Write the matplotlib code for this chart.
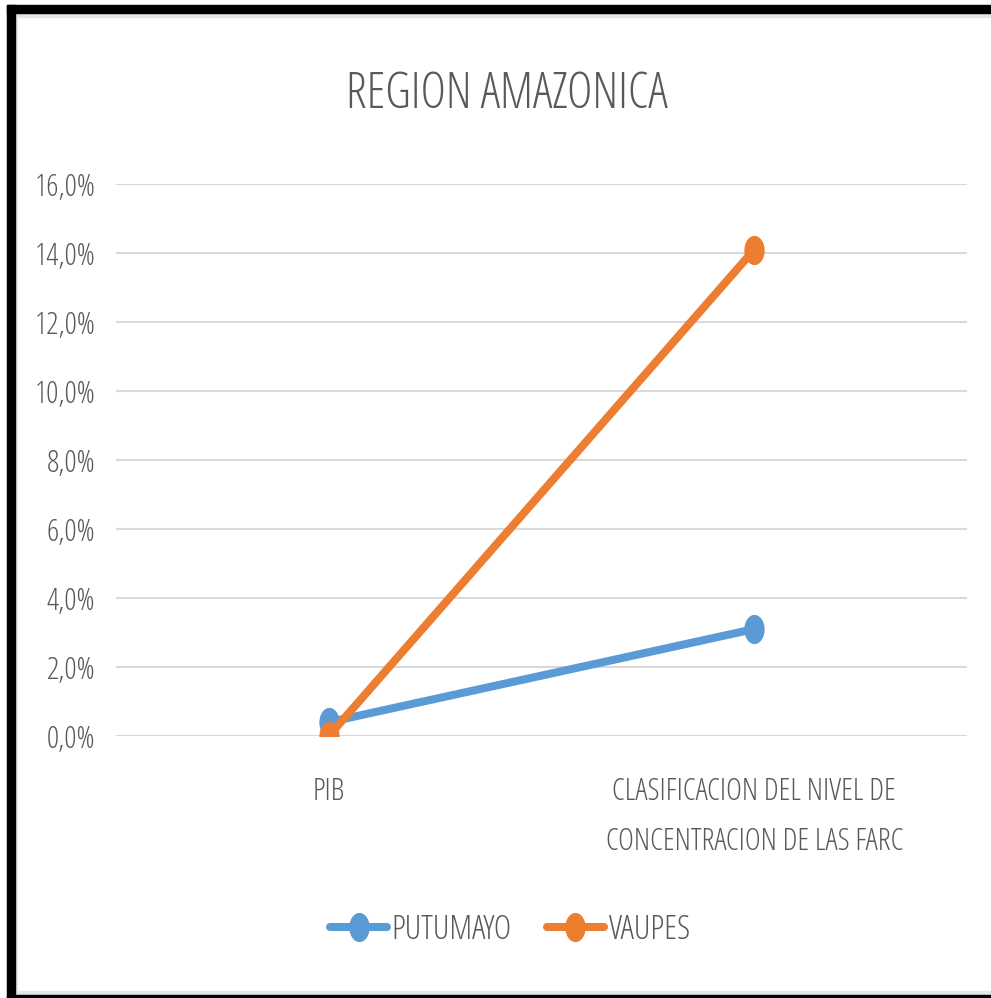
import numpy as np
import matplotlib
matplotlib.use('Agg')
import matplotlib.pyplot as plt
from matplotlib.path import Path
from matplotlib.patches import Rectangle
from matplotlib.ticker import FuncFormatter

plt.rcParams['font.family'] = ['Open Sans', 'DejaVu Sans']
plt.rcParams['font.stretch'] = 'condensed'
plt.rcParams['font.weight'] = 300

# data
categories = ['PIB', 'CLASIFICACION DEL NIVEL DE\nCONCENTRACION DE LAS FARC']
putumayo = [0.004, 0.031]
vaupes = [0.000, 0.141]
series_names = ['PUTUMAYO', 'VAUPES']
y_ticks = [0.0, 0.02, 0.04, 0.06, 0.08, 0.10, 0.12, 0.14, 0.16]

blue = '#5B9BD5'
orange = '#ED7D31'
gray_text = '#595959'

# tall ellipse marker (chart is squeezed horizontally)
t = np.linspace(0, 2 * np.pi, 60)
ellipse = Path(np.column_stack([0.68 * np.cos(t), np.sin(t)]), closed=True)

W, H = 991, 998
fig = plt.figure(figsize=(W / 100, H / 100), dpi=100)
ax = fig.add_axes([116 / W, 1 - 736 / H, (967 - 116) / W, (736 - 184) / H])

x = np.arange(len(categories))
ax.plot(x, putumayo, color=blue, lw=5.8, marker=ellipse, ms=20,
        solid_capstyle='round', label=series_names[0], zorder=3)
ax.plot(x, vaupes, color=orange, lw=5.8, marker=ellipse, ms=20,
        solid_capstyle='round', label=series_names[1], zorder=4)

ax.set_xlim(-0.5, 1.5)
ax.set_ylim(0, 0.16)
ax.set_yticks(y_ticks)
ax.yaxis.set_major_formatter(FuncFormatter(lambda v, p: f'{v * 100:.1f}%'.replace('.', ',')))
ax.set_xticks(x)
ax.set_xticklabels(categories, linespacing=1.75)
ax.tick_params(axis='y', length=0, pad=15, labelsize=22, labelcolor=gray_text)
ax.tick_params(axis='x', length=0, pad=29, labelsize=22, labelcolor=gray_text)
ax.grid(axis='y', color='#D9D9D9', lw=1.5)
ax.set_axisbelow(True)
for s in ax.spines.values():
    s.set_visible(False)

fig.text(507 / W, 1 - 95 / H, 'REGION AMAZONICA', ha='center', va='center',
         fontsize=35, color=gray_text)

leg = fig.legend(loc='center', bbox_to_anchor=(510 / W, 1 - 930 / H), ncol=2,
                 frameon=False, fontsize=24, labelcolor=gray_text,
                 handlelength=1.7, columnspacing=1.05, handletextpad=0.15)

# black frame (left, top, bottom) with light shadow
def px_rect(x0, y0, x1, y1, color):
    fig.patches.append(Rectangle((x0 / W, 1 - y1 / H), (x1 - x0) / W, (y1 - y0) / H,
                                 transform=fig.transFigure, color=color, zorder=10))

px_rect(7, 13, 17, 998, '#E6E6E6')
px_rect(7, 13, 991, 17, '#E6E6E6')
px_rect(7, 991, 991, 995, '#E6E6E6')
px_rect(7, 5, 15, 998, 'black')
px_rect(7, 5, 991, 13, 'black')
px_rect(7, 995, 991, 998, 'black')

fig.savefig('out.png', dpi=100)
